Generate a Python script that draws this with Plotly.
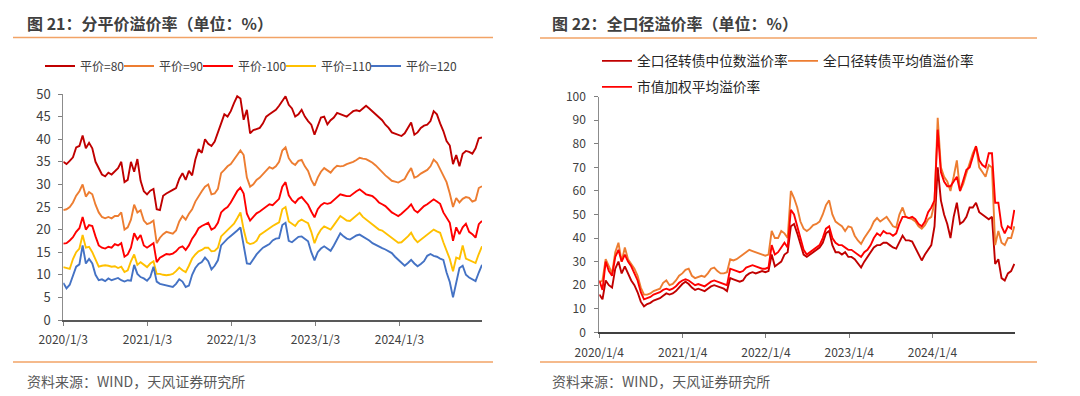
import plotly.graph_objects as go
import pandas as pd

W, H = 1080, 396
OFF = 8  # the page body adds an 8px margin; the figure is sized so it still fills the window
FW, FH = W - OFF, H - OFF
FONT = "Noto Sans CJK SC"

# ---------------- data: left chart (分平价溢价率) ----------------
left_dates = pd.date_range("2020-01-03", periods=131, freq="14D")
left_names = ["平价=80", "平价=90", "平价-100", "平价=110", "平价=120"]
left_colors = ["#C00000", "#ED7D31", "#FF0000", "#FFC000", "#4472C4"]

p80 = [
    35.0, 34.5, 35.2, 36.0, 38.2, 38.5, 40.8, 38.0, 39.2, 38.0,
    35.0, 33.5, 32.2, 31.8, 32.6, 32.2, 32.8, 33.6, 35.0, 30.5,
    31.0, 35.0, 32.8, 35.6, 30.8, 28.5, 27.8, 28.6, 29.0, 24.5,
    24.3, 27.5, 28.0, 28.5, 28.8, 29.2, 31.2, 32.5, 31.0, 33.0,
    32.0, 35.5, 37.8, 37.0, 40.0, 39.0, 38.5, 39.5, 41.5, 43.8,
    45.5, 45.0, 46.2, 48.0, 49.5, 49.0, 44.3, 46.5, 41.3, 42.0,
    42.2, 42.5, 43.5, 45.0, 45.5,
    46.0, 46.5, 47.4, 48.5, 49.5, 47.6, 46.8, 45.0, 45.5, 46.5,
    45.0, 44.0, 43.2, 41.0, 42.8, 44.8, 45.0, 43.3, 44.2, 44.8,
    45.8, 45.5, 45.2, 45.0, 45.6, 46.2, 46.4, 46.2, 46.8, 47.4,
    46.8, 46.2, 45.6, 45.0, 44.2, 43.2, 42.5, 41.5, 41.2, 40.9,
    40.7, 41.3, 42.5, 43.7, 41.0, 41.5, 42.5, 43.0, 43.2, 44.0,
    46.2, 45.5, 43.5, 41.8, 39.6, 38.6, 34.5, 36.5, 34.0, 36.8,
    37.4, 37.2, 36.8, 38.0, 40.2, 40.4,
]
p90 = [
    24.3, 24.5, 25.0, 26.0, 27.5, 28.5, 30.0, 27.3, 28.3, 27.8,
    25.5, 23.8, 22.8, 22.5, 22.8, 22.5, 23.0, 23.0, 23.8, 20.0,
    20.5, 22.2, 25.5, 23.8, 24.3, 22.0, 21.2, 21.5, 22.0, 17.0,
    18.2, 19.0, 19.5, 19.3, 19.1, 19.8, 21.8, 23.0, 22.2, 23.5,
    24.5, 26.2, 27.5, 28.5, 29.5, 30.0, 27.8, 28.0, 29.0, 32.5,
    33.2, 34.0, 34.5, 35.4, 36.5, 37.5, 36.5, 31.5, 29.5, 30.0,
    31.0, 31.5, 32.3, 33.0, 33.8,
    33.5, 34.0, 35.0, 37.5, 38.2, 35.8, 34.8, 34.3, 35.2, 35.4,
    34.0, 33.0, 31.0, 29.7, 31.5, 32.8, 33.6, 33.0, 32.6, 33.5,
    34.1, 34.0, 34.1, 34.5, 34.7, 35.0, 35.4, 35.9, 35.7, 35.6,
    35.2, 34.8, 34.2, 33.4, 32.8, 32.0, 31.4, 30.8, 30.6, 30.4,
    30.8, 31.2, 32.5, 33.6, 31.5, 31.8, 32.4, 32.8, 33.2, 34.0,
    35.5, 34.8, 33.4, 32.0, 30.5, 28.0, 25.0, 27.0, 26.0, 26.8,
    27.2, 27.0, 26.2, 26.5, 29.2, 29.6,
]
p100 = [
    16.9, 17.0, 17.6, 18.3, 19.5, 20.3, 22.8, 20.0, 21.0, 20.8,
    18.5, 16.5, 16.0, 15.8, 16.2, 16.0, 16.8, 16.5, 17.0, 14.0,
    14.5, 16.0, 19.2, 17.8, 18.8, 16.5, 16.0, 16.5, 17.0, 12.8,
    13.8, 14.2, 14.6, 14.5, 14.7, 15.2, 16.0, 16.3, 15.5, 16.5,
    18.0, 19.0, 20.3, 20.8, 21.2, 21.5, 20.0, 20.4, 21.5, 23.8,
    24.5, 25.0, 26.0, 27.3, 28.5, 29.3, 28.0, 23.5, 22.0, 22.8,
    23.6, 24.0, 24.6, 25.2, 25.6,
    25.4, 26.0, 26.8, 29.5, 30.5, 27.6, 26.5, 25.9, 26.8, 27.2,
    26.4, 25.5, 24.0, 22.7, 24.5, 25.4, 25.9, 25.7, 25.9, 26.5,
    27.0, 27.8, 27.6, 27.4, 27.4, 28.0, 28.5, 28.9, 28.3, 27.8,
    27.6, 27.4, 26.8, 26.0, 25.6, 25.2, 24.5, 23.8, 23.4, 23.0,
    23.5, 24.1, 24.8, 25.6, 24.3, 23.8, 24.5, 25.2, 25.6, 26.2,
    26.7, 26.2, 25.7, 23.8, 22.5, 21.5, 17.5, 20.5, 19.0, 20.5,
    21.3, 19.5, 19.0, 18.2, 21.2, 21.9,
]
p110 = [
    11.7, 11.5, 11.3, 13.5, 15.0, 15.8, 18.8, 16.0, 16.2, 15.0,
    13.2, 11.8, 12.0, 12.1, 12.0, 11.8, 11.9, 11.5, 11.8, 10.6,
    11.0, 13.0, 14.5, 12.2, 12.8, 12.2, 11.7, 12.5, 13.0, 10.2,
    10.2, 10.0, 9.9, 10.0, 10.2, 10.8, 11.6, 11.0, 10.6, 12.0,
    13.6, 14.5, 15.2, 15.5, 16.0, 16.0, 15.2, 15.3, 16.0, 18.5,
    19.2, 19.9, 20.5, 21.3, 22.5, 23.8, 20.0, 17.2, 16.8, 17.0,
    17.5, 18.8, 19.3, 19.8, 20.5,
    20.8, 21.2, 21.6, 24.5, 25.0, 21.8, 21.2, 20.8, 21.8, 22.2,
    21.8, 21.4, 19.5, 17.0, 18.8, 20.0, 20.7, 20.3, 20.0, 21.0,
    22.0, 23.0, 22.5, 22.0, 21.9, 22.5, 23.2, 23.7, 22.8, 22.2,
    21.8, 21.1, 20.6, 20.0, 19.8, 19.3, 18.6, 18.1, 17.6, 17.1,
    17.2, 17.8, 18.5, 19.3, 18.0, 17.2, 17.8, 18.4, 18.8, 19.5,
    20.0, 19.6, 19.3, 17.2, 15.5, 13.5, 10.8, 13.8, 13.5, 16.5,
    13.6, 13.3, 13.0, 12.6, 14.6, 16.3,
]
p120 = [
    8.2, 7.0, 7.8, 10.0, 11.8, 12.3, 16.5, 12.5, 13.5, 12.5,
    10.0, 8.8, 9.0, 8.6, 9.2, 8.8, 9.0, 9.3, 8.8, 8.5,
    8.8, 8.7, 12.2, 10.2, 9.5, 9.2, 8.7, 9.5, 11.8, 8.5,
    8.0, 7.8, 7.6, 7.5, 7.3, 8.0, 9.0, 8.5, 7.3, 7.6,
    10.0, 11.5, 12.4, 12.8, 13.8, 13.0, 11.2, 12.0, 13.2, 16.5,
    17.3, 18.0, 18.6, 19.1, 19.8, 20.5, 16.5, 12.5, 12.4, 13.5,
    14.5, 15.3, 16.0, 16.4, 16.8,
    17.6, 18.0, 18.1, 21.0, 21.5, 17.5, 17.2, 17.8, 18.4, 18.5,
    18.0, 17.4, 15.0, 13.2, 15.0, 15.8, 16.3, 15.7, 15.3, 16.5,
    17.8, 19.2, 18.5, 18.0, 17.8, 18.3, 18.7, 18.9, 18.5, 18.1,
    17.6, 17.0, 16.6, 16.3, 15.9, 15.6, 15.2, 14.8, 14.0, 13.4,
    12.8, 12.0, 12.6, 13.3, 12.5, 11.9, 12.4, 13.0, 14.2, 14.6,
    14.2, 14.0, 13.6, 13.3, 10.5, 8.4, 5.0, 8.5, 11.5, 12.0,
    10.0, 9.4, 9.0, 8.6, 10.5, 12.2,
]
left_tickvals = ["2020-01-03", "2021-01-03", "2022-01-03", "2023-01-03", "2024-01-03"]
left_ticktext = ["2020/1/3", "2021/1/3", "2022/1/3", "2023/1/3", "2024/1/3"]

# ---------------- data: right chart (全口径溢价率) ----------------
right_dates = pd.date_range("2020-01-04", periods=131, freq="14D")
right_names = ["全口径转债中位数溢价率", "全口径转债平均值溢价率", "市值加权平均溢价率"]
right_colors = ["#C00000", "#ED7D31", "#FF0000"]

median_prem = [
    16, 14, 22, 20, 19, 27, 30, 25, 28, 25,
    22, 20, 17, 13, 11, 12, 12.5, 13.5, 14, 14.5,
    15.5, 16.5, 16, 16.5, 17.5, 19, 20.5, 21.5, 20.5, 19,
    18, 18.5, 18, 17.5, 18.5, 19.5, 20, 19.5, 19, 18.5,
    17.5, 23, 22.5, 22, 21.5, 22, 24, 25, 25.5, 25,
    25.5, 26, 25.5, 26, 33, 28, 29, 30, 33, 34,
    45, 46, 42, 37, 33, 32, 33, 34, 35, 36,
    38, 42, 43, 37, 34, 34, 33, 34, 32, 32,
    31, 29, 27.5, 30, 32, 34, 36, 37, 37, 38,
    38, 37, 36, 35.5, 38, 41, 39, 39, 38.5, 36,
    33, 30.5, 33, 35, 37, 45, 70, 56, 50, 46,
    40, 49, 55, 46, 47, 49, 53, 53, 55, 51,
    50, 49, 48, 49, 29, 31, 23, 22, 25, 26,
    29,
]
mean_prem = [
    21, 22, 31, 28, 25, 34, 38, 30, 36, 31,
    29, 27, 24, 19, 16, 16, 16.5, 17.5, 18, 18.5,
    21, 22, 20, 20.5, 22, 24, 25, 26.5, 27, 24,
    23, 23.5, 24, 23.5, 25, 27, 27.5, 26, 25, 25,
    25.5, 31, 30.5, 31, 32, 33, 34, 35, 34.5, 34,
    33.5, 33, 32.5, 33, 43, 40, 40, 43, 42, 40,
    60, 57, 53, 47, 44, 43, 44, 45.5, 46, 47,
    50, 54, 56, 50, 47, 46, 45, 43, 45, 44.5,
    41, 39, 37.5, 40, 42, 44, 47, 48.5, 47, 48,
    49, 47, 45, 44.5, 50, 53, 49, 48.5, 48, 47,
    45, 44, 45.5, 48, 49, 55, 91, 70, 66, 64,
    60, 66, 73, 60, 63, 67.5, 72, 76, 79, 70,
    68, 66, 71, 70, 37, 43, 38, 37, 40, 40,
    45,
]
wavg_prem = [
    22, 18, 30, 26, 24, 32, 35, 30, 33, 30,
    28, 25, 22, 17, 14, 14.5, 15, 16, 16.5, 17,
    18, 18.5, 18, 18.5, 19.5, 21, 22, 22.5, 22, 21,
    20, 20.5, 20, 19.5, 20.5, 21.5, 22, 21.5, 21, 20.5,
    20, 27, 26.5, 26, 25.5, 26, 27.5, 28, 28.5, 28,
    27.5, 27, 27, 27.5, 37, 33, 34, 36, 38, 36,
    52, 50, 45, 40, 35, 33, 34, 35, 36, 37,
    40, 44, 45, 40, 38, 37, 37, 36, 35, 35,
    34, 33, 32, 34, 35, 37, 40, 42, 41, 43,
    42, 42, 41, 42, 46, 49, 49, 48.5, 49, 48,
    46, 45, 47, 51, 53, 56, 86, 68, 64, 62,
    62, 64, 66, 60, 65, 69, 70, 75, 79, 73,
    71, 70, 76, 76, 55, 55, 45, 42, 45, 44,
    52,
]
right_tickvals = ["2020-01-04", "2021-01-04", "2022-01-04", "2023-01-04", "2024-01-04"]
right_ticktext = ["2020/1/4", "2021/1/4", "2022/1/4", "2023/1/4", "2024/1/4"]


def px(x):
    """window pixel x -> paper fraction"""
    return (x - OFF) / FW


def py(y):
    """window pixel y -> paper fraction"""
    return 1 - (y - OFF) / FH


fig = go.Figure()

left_series = [p80, p90, p100, p110, p120]
left_lw = [34, 34, 38, 40, 50]
for name, vals, col, lw in zip(left_names, left_series, left_colors, left_lw):
    fig.add_trace(go.Scatter(
        x=left_dates, y=vals, name=name, mode="lines",
        line=dict(color=col, width=1.9),
        xaxis="x", yaxis="y", legend="legend", legendwidth=lw,
    ))

right_series = [median_prem, mean_prem, wavg_prem]
right_leg = ["legend2", "legend2", "legend3"]
right_lw = [141, 160, 160]
for name, vals, col, lg, lw in zip(right_names, right_series, right_colors, right_leg, right_lw):
    fig.add_trace(go.Scatter(
        x=right_dates, y=vals, name=name, mode="lines",
        line=dict(color=col, width=1.9),
        xaxis="x2", yaxis="y2", legend=lg, legendwidth=lw,
    ))

axis_common = dict(showgrid=False, zeroline=False, ticks="outside", ticklen=4,
                   tickcolor="#7F7F7F", showline=True, automargin=False)

fig.update_layout(
    template="none",
    width=FW, height=FH,
    margin=dict(l=0, r=0, t=0, b=0, pad=0, autoexpand=False),
    paper_bgcolor="white", plot_bgcolor="white",
    font=dict(family=FONT, color="#404040"),
    xaxis=dict(domain=[px(63.3), px(482)], anchor="y", type="date",
               range=["2020-01-03", "2024-12-27"],
               tickvals=left_tickvals, ticktext=left_ticktext,
               linecolor="#595959", linewidth=1.5,
               tickfont=dict(size=12, color="#404040"), ticklabelstandoff=4,
               **axis_common),
    yaxis=dict(domain=[py(320), py(94)], anchor="x", range=[0, 50], dtick=5,
               linecolor="#8C8C8C", linewidth=1,
               tickfont=dict(size=13, color="#404040"), ticklabelstandoff=5,
               **axis_common),
    xaxis2=dict(domain=[px(599.3), px(1015)], anchor="y2", type="date",
                range=["2020-01-04", "2024-12-31"],
                tickvals=right_tickvals, ticktext=right_ticktext,
                linecolor="#404040", linewidth=1.5,
                tickfont=dict(size=12, color="#404040"), ticklabelstandoff=5,
                **axis_common),
    yaxis2=dict(domain=[py(332.3), py(96.7)], anchor="x2", range=[0, 100], dtick=10,
                linecolor="#8C8C8C", linewidth=1,
                tickfont=dict(size=12, color="#404040"), ticklabelstandoff=6,
                **axis_common),
    legend=dict(orientation="h", x=px(40), xanchor="left", y=py(66), yanchor="middle",
                font=dict(size=12, color="#404040"), bgcolor="rgba(0,0,0,0)",
                itemwidth=30, borderwidth=0),
    legend2=dict(orientation="h", x=px(597), xanchor="left", y=py(61), yanchor="middle",
                 font=dict(size=13.7, color="#262626"), bgcolor="rgba(0,0,0,0)",
                 itemwidth=30, borderwidth=0),
    legend3=dict(orientation="h", x=px(597), xanchor="left", y=py(87), yanchor="middle",
                 font=dict(size=13.7, color="#262626"), bgcolor="rgba(0,0,0,0)",
                 itemwidth=30, borderwidth=0),
    showlegend=True,
)

# titles, separator lines and source notes
titles = [("图 21：分平价溢价率（单位：%）", 25), ("图 22：全口径溢价率（单位：%）", 550)]
for txt, x0 in titles:
    fig.add_annotation(text="<b>" + txt + "</b>", x=px(x0), y=py(23), xref="paper", yref="paper",
                       xanchor="left", yanchor="middle", showarrow=False,
                       font=dict(size=16, color="#404040", family=FONT))
sources = [25, 550]
for x0 in sources:
    fig.add_annotation(text="资料来源：WIND，天风证券研究所", x=px(x0), y=py(381),
                       xref="paper", yref="paper", xanchor="left", yanchor="middle",
                       showarrow=False, font=dict(size=14, color="#595959", family=FONT))

rules = [(13, 493, 37.5), (540, 1037, 38), (13, 493, 362), (540, 1037, 362)]
for x0, x1, yy in rules:
    fig.add_shape(type="line", xref="paper", yref="paper",
                  x0=px(x0), x1=px(x1), y0=py(yy), y1=py(yy),
                  line=dict(color="#F2A366", width=1.3))

fig.write_html("out.html")
